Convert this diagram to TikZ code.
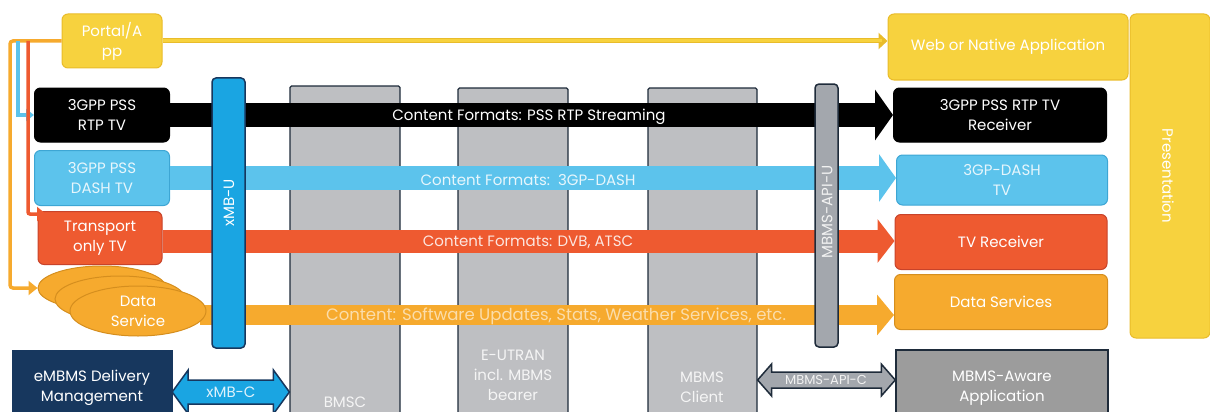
\documentclass[tikz,border=0pt]{standalone}
\usepackage{fontspec}
\setmainfont{Poppins}
\usetikzlibrary{arrows.meta,shapes.geometric,calc}
\definecolor{cyel}{HTML}{F7D23E}
\definecolor{cyelb}{HTML}{E9BC2A}
\definecolor{cblue}{HTML}{5CC3EC}
\definecolor{cblueb}{HTML}{3DA6D4}
\definecolor{cred}{HTML}{EE5A30}
\definecolor{credb}{HTML}{C8432A}
\definecolor{corg}{HTML}{F6AA2E}
\definecolor{corgb}{HTML}{D58E1E}
\definecolor{cxmb}{HTML}{1AA5E2}
\definecolor{cnavy}{HTML}{17375E}
\definecolor{cgcol}{HTML}{BEBFC2}
\definecolor{cgdark}{HTML}{1E2B3A}
\definecolor{cgapp}{HTML}{9C9C9C}
\definecolor{capi}{HTML}{A3A7AD}
\begin{document}
\begin{tikzpicture}[x=1pt,y=-1pt,
  every node/.style={font=\fontsize{15}{20}\selectfont, text=white, align=center, inner sep=0pt},
  bx/.style 2 args={rounded corners=6pt, line width=1pt, fill=#1, draw=#2},
  col/.style={fill=cgcol, draw=cgdark, line width=1.2pt, rounded corners=1.5pt},
  band/.style 2 args={line width=#2, draw=#1},
  thin/.style={line width=3.5pt, draw=#1},
  lbl/.style={font=\fontsize{15}{18}\selectfont}
]
\useasboundingbox (0,0) rectangle (1210,412);
\begin{scope}
\clip (0,0) rectangle (1210,412);
% gray columns
\node[col, minimum width=110, minimum height=340] (bmsc) at (345,256) {};
\node[col, minimum width=110, minimum height=338] (eutran) at (513,257) {};
\node[col, minimum width=109, minimum height=338] (client) at (702.5,257) {};
\node[text=white!92!gray] (bmsct) at (345,402) {BMSC};
\node[text=white!92!gray] (eutrant) at (513,375) {E-UTRAN\\incl. MBMS\\bearer};
\node[text=white!92!gray] (clientt) at (702,387) {MBMS\\Client};

% bottom boxes
\node[fill=cnavy, draw=cnavy, minimum width=160, minimum height=70] (embms) at (92,385) {};
\node at (92,388) {eMBMS Delivery\\Management};
\node[fill=cgapp, draw=cgdark, line width=1.5pt, minimum width=212, minimum height=70] (maware) at (1002,385) {};
\node at (1002,388) {MBMS-Aware\\Application};

% double arrows
\coordinate (xa) at (embms.east |- 0,392);
\coordinate (xb) at (bmsc.west |- 0,392);
\filldraw[fill=cxmb, draw=cnavy, line width=1.5pt, line join=miter]
  (xa) -- ($(xa)+(16,-22)$) -- ($(xa)+(16,-12)$) -- ($(xb)+(-16,-12)$) -- ($(xb)+(-16,-22)$) -- (xb)
  -- ($(xb)+(-16,22)$) -- ($(xb)+(-16,12)$) -- ($(xa)+(16,12)$) -- ($(xa)+(16,22)$) -- cycle;
\node[text=white!85!cxmb] (xmbct) at (231,392) {xMB-C};
\coordinate (pa) at (client.east |- 0,380);
\coordinate (pb) at (maware.west |- 0,380);
\filldraw[fill=capi, draw=cgdark, line width=1.5pt, line join=miter]
  (pa) -- ($(pa)+(14,-16)$) -- ($(pa)+(14,-8)$) -- ($(pb)+(-14,-8)$) -- ($(pb)+(-14,-16)$) -- (pb)
  -- ($(pb)+(-14,16)$) -- ($(pb)+(-14,8)$) -- ($(pa)+(14,8)$) -- ($(pa)+(14,16)$) -- cycle;
\node[text=white!90!gray, font=\fontsize{13}{15}\selectfont] (apict) at (826,380) {MBMS-API-C};
\end{scope}

% top boxes
\node[bx={cyel}{cyelb}, minimum width=100, minimum height=54] (portal) at (112,41) {Portal/A\\pp};
\node[bx={cyel}{cyelb}, minimum width=240, minimum height=66] (web) at (1008,47) {Web or Native Application};
\node[bx={cyel}{cyelb}, minimum width=80, minimum height=324] (pres) at (1170,176) {};
\node[rotate=-90] (prest) at (1168,176) {Presentation};

% sources and receivers
\node[bx={black}{black}, minimum width=135, minimum height=54] (rtp) at (102,115) {3GPP PSS\\RTP TV};
\node[bx={black}{black}, minimum width=213, minimum height=54] (rtpr) at (1000,115) {3GPP PSS RTP TV\\Receiver};
\node[bx={cblue}{cblueb}, minimum width=135, minimum height=55] (dash) at (102,178) {};
\node[bx={cblue}{cblueb}, minimum width=211, minimum height=50] (dashr) at (1002,180) {};
\node[bx={cred}{credb}, minimum width=124, minimum height=53] (tr) at (100,238) {};
\node[bx={cred}{credb}, minimum width=212, minimum height=55] (trr) at (1001,242) {TV Receiver};
\node[bx={corg}{corgb}, minimum width=213, minimum height=55] (dsr) at (1001,302) {Data Services};

% bands
\draw[band={black}{24pt}, -{Triangle[length=18pt,width=50pt]}] (rtp.east) -- (rtpr.west);
\draw[band={cblue}{24pt}, -{Triangle[length=17pt,width=47pt]}] (dash.east |- 0,178) -- (dashr.west |- 0,178);
\draw[band={cred}{23pt}, -{Triangle[length=17pt,width=43pt]}] (tr.east |- 0,241) -- (trr.west |- 0,241);
\draw[band={corg}{20pt}, -{Triangle[length=17pt,width=40pt]}] (200,315) -- (dsr.west |- 0,315);

% band labels
\node[lbl] (l1) at (529,117) {Content Formats: PSS RTP Streaming};
\node[lbl, text=white!85!cblue] (l2) at (528,180) {Content Formats:\ \ 3GP-DASH};
\node[lbl, text=white!85!cred] (l3) at (528,242) {Content Formats: DVB, ATSC};
\node[lbl, text=white!60!corg, font=\fontsize{16.5}{18}\selectfont] (l4) at (556,316) {Content: Software Updates, Stats, Weather Services, etc.};

% source box texts (over bands)
\node[text=white!85!cblue] (dasht) at (dash) {3GPP PSS\\DASH TV};
\node[text=white!85!cblue] (dashrt) at (dashr) {3GP-DASH\\TV};
\node (trt) at (tr) {Transport\\only TV};

% data service ellipses
\node[ellipse, fill=corg, draw=corgb, line width=1pt, minimum width=128, minimum height=44] (e1) at (102,288) {};
\node[ellipse, fill=corg, draw=corgb, line width=1pt, minimum width=130, minimum height=46] (e2) at (120,299) {};
\node[ellipse, fill=corg, draw=corgb, line width=1pt, minimum width=136, minimum height=50] (e3) at (138,311) {};
\node (ds) at (e3) {Data\\Service};

% vertical bars
\node[fill=cxmb, draw=cnavy, line width=1.5pt, rounded corners=4pt, minimum width=33, minimum height=270] (xmbu) at (228.5,213) {};
\node[rotate=90] (xmbut) at (229,203) {xMB-U};
\node[fill=capi, draw=cgdark, line width=1.5pt, rounded corners=4pt, minimum width=23, minimum height=263] (apiu) at (826.5,215.5) {};
\node[rotate=90, text=white!90!gray] (apiut) at (827,212) {MBMS-API-U};

% portal to web
\draw[line width=5pt, draw=cyelb, -{Triangle[length=9pt,width=16pt]}] (portal.east) -- (web.west |- portal.east);
\draw[line width=3pt, draw=cyel, shorten >=6pt] (portal.east) -- (web.west |- portal.east);

% left connectors
\coordinate (lo) at (10,41);
\coordinate (lb) at (18,41);
\coordinate (lr) at (28,41);
\draw[thin=corg, rounded corners=3pt, -{Triangle[length=9pt,width=14pt]}] (portal.west) -- (lo) |- (e1.west);
\draw[thin=cblue, -{Triangle[length=8pt,width=12pt]}] (lb) |- (rtp.west);
\draw[thin=cred, rounded corners=2pt, -{Triangle[length=9pt,width=14pt]}] (lr) |- (46,214);
\end{tikzpicture}
\end{document}
